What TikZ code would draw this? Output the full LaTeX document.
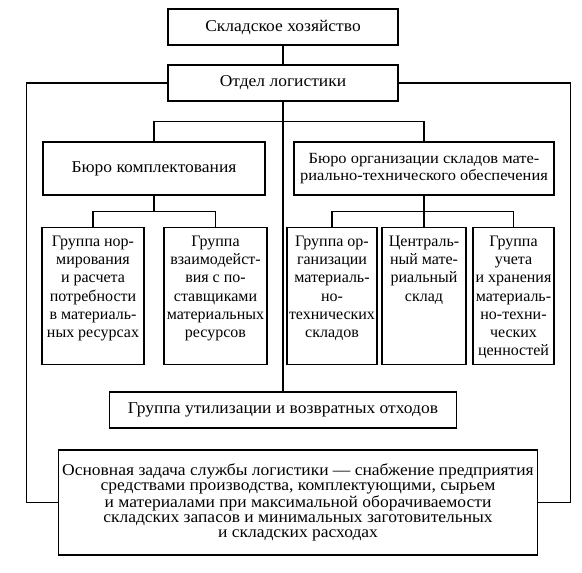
\documentclass[tikz,border=0pt]{standalone}
\usepackage{fontspec}
\setmainfont{Liberation Serif}
\newfontfamily\wideserif[FakeStretch=1.06]{Liberation Serif}
\usepackage{tikz}
\tikzstyle{unit} = [draw, line width=1.4pt, inner sep=0pt, align=center,
  font=\wideserif\fontsize{16.5}{15}\selectfont]
\tikzstyle{grp} = [draw, line width=1.4pt, inner sep=0pt, anchor=north,
  font=\fontsize{16}{18.3}\selectfont]
\newcommand{\cell}[3]{\parbox[t][#2][t]{#1}{\centering\vspace*{8pt}#3}}

\begin{document}
\begin{tikzpicture}[x=1pt, y=-1pt, line width=1.4pt]
  \useasboundingbox (0,0) rectangle (582,573);

  % head of the service
  \node[unit, minimum width=230, minimum height=36] (hoz) at (283,27) {Складское хозяйство};
  \node[unit, minimum width=230, minimum height=36] (otdel) at (283,83) {Отдел логистики};

  % bureaus
  \node[unit, minimum width=222, minimum height=53] (komp) at (154,168.5) {Бюро комплектования};
  \node[unit, minimum width=260, minimum height=53, font=\wideserif\fontsize{15.5}{17}\selectfont] (org) at (424,168.5)
    {Бюро организации складов мате-\\риально-технического обеспечения};

  % groups
  \node[grp] (norm) at (93,227) {\cell{102pt}{137pt}{Группа нор-\\мирования\\и расчета\\потребности\\в материаль-\\ных ресурсах}};
  \node[grp] (vzaim) at (215.5,227) {\cell{103pt}{137pt}{Группа\\взаимодейст-\\вия с по-\\ставщиками\\материальных\\ресурсов}};
  \node[grp] (orgsk) at (332,227) {\cell{90pt}{137pt}{Группа ор-\\ганизации\\материаль-\\но-\\технических\\складов}};
  \node[grp] (centr) at (424,227) {\cell{84pt}{137pt}{Централь-\\ный мате-\\риальный\\склад}};
  \node[grp] (ucet) at (513.5,227) {\cell{81pt}{137pt}{Группа\\учета\\и хранения\\материаль-\\но-техни-\\ческих\\ценностей}};

  \node[unit, minimum width=347, minimum height=36] (util) at (283,410) {Группа утилизации и возвратных отходов};

  \node[unit, minimum width=479, minimum height=105] (task) at (298,502.5)
    {Основная задача службы логистики — снабжение предприятия\\
     средствами производства, комплектующими, сырьем\\
     и материалами при максимальной оборачиваемости\\
     складских запасов и минимальных заготовительных\\
     и складских расходах};

  % links
  \draw (hoz) -- (otdel);
  \draw (otdel.south) -- (util.north);
  \draw (komp.north) -- ++(0,-20) -| (org.north);
  \draw (komp.south) -- ++(0,16) -| (norm.north);
  \draw (komp.south) ++(0,16) -| (vzaim.north);
  \draw (org.south) -- ++(0,16) -| (orgsk.north);
  \draw (org.south) ++(0,16) -| (ucet.north);
  \draw (org.south) -- (centr.north);

  % outer frame
  \draw (otdel.west) -- ++(-141,0) |- (task.west);
  \draw (otdel.east) -- ++(172,0) |- (task.east);
\end{tikzpicture}
\end{document}
